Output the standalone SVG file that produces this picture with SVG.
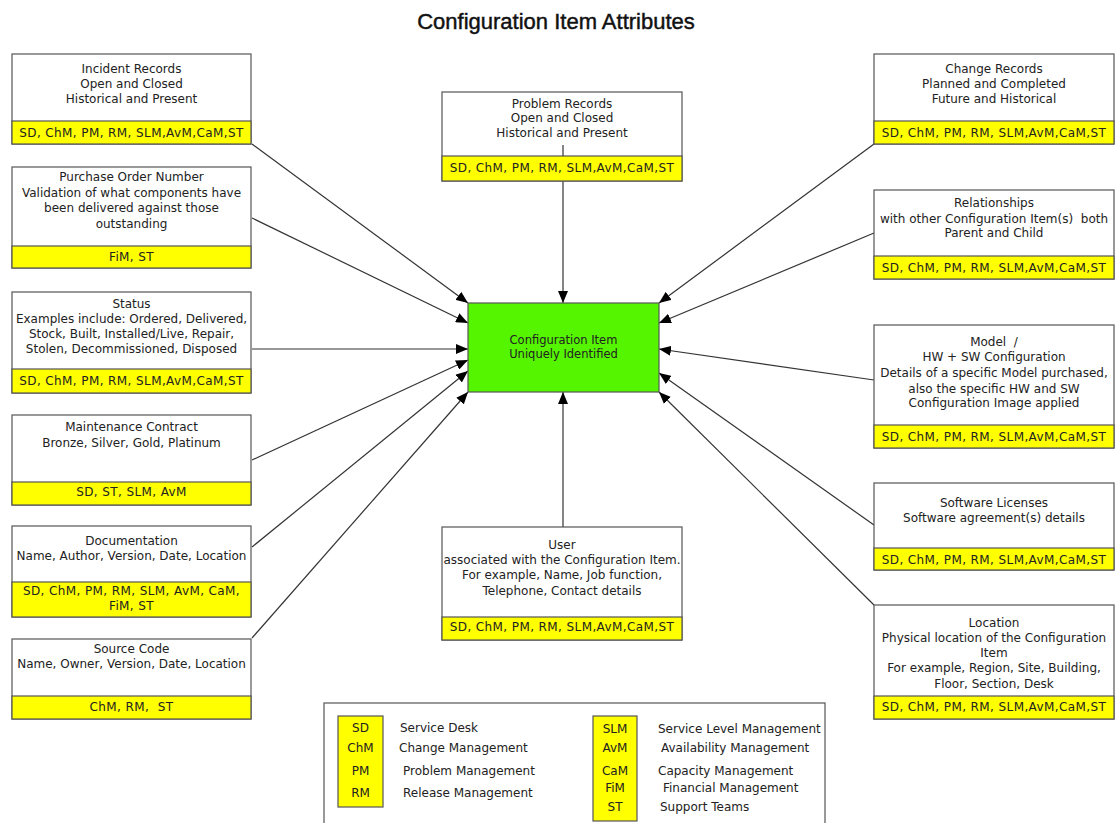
<svg xmlns="http://www.w3.org/2000/svg" width="1117" height="823" viewBox="0 0 1117 823">
<style>
.box{fill:#fff;stroke:#555;stroke-width:1.2}
.yel{fill:#ffff00;stroke:#555;stroke-width:1.2}
.grn{fill:#55f500;stroke:#555;stroke-width:1.2}
.t{font-family:"DejaVu Sans",sans-serif;font-size:12px;fill:#222;text-anchor:middle}
.y{font-family:"DejaVu Sans",sans-serif;font-size:12px;fill:#222;text-anchor:middle;letter-spacing:0.4px;white-space:pre}
.l{font-family:"DejaVu Sans",sans-serif;font-size:12px;fill:#222}
.c{stroke:#333;stroke-width:1.2;fill:none;marker-end:url(#ah)}
.title{font-family:"Liberation Sans",Arial,sans-serif;font-size:22px;fill:#111;stroke:#111;stroke-width:0.45px;text-anchor:middle}
</style>
<defs>
<marker id="ah" viewBox="0 0 12 10" refX="12" refY="5" markerWidth="12" markerHeight="10" orient="auto" markerUnits="userSpaceOnUse"><path d="M0,0 L12,5 L0,10 z" fill="#000"/></marker>
</defs>
<rect width="1117" height="823" fill="#fff"/>
<text class="title" x="556" y="29">Configuration Item Attributes</text>

<g id="connectors">
<line class="c" x1="252" y1="144" x2="468" y2="303"/>
<line class="c" x1="252" y1="218" x2="468" y2="323"/>
<line class="c" x1="252" y1="349" x2="468" y2="349"/>
<line class="c" x1="252" y1="460" x2="468" y2="360"/>
<line class="c" x1="252" y1="547" x2="468" y2="371"/>
<line class="c" x1="252" y1="638" x2="468" y2="392"/>
<line class="c" x1="563" y1="181" x2="563" y2="303"/>
<line class="c" x1="563" y1="527" x2="563" y2="392"/>
<line class="c" x1="874" y1="144" x2="659" y2="303"/>
<line class="c" x1="874" y1="233" x2="659" y2="323"/>
<line class="c" x1="874" y1="380" x2="659" y2="349"/>
<line class="c" x1="874" y1="525" x2="659" y2="373"/>
<line class="c" x1="874" y1="605" x2="659" y2="392"/>
</g>

<g id="incident">
<rect class="box" x="12" y="54" width="239" height="90"/>
<rect class="yel" x="12" y="121" width="239" height="23"/>
<text class="t" x="131.5" y="73">Incident Records</text>
<text class="t" x="131.5" y="88">Open and Closed</text>
<text class="t" x="131.5" y="103">Historical and Present</text>
<text class="y" x="131.5" y="137">SD, ChM, PM, RM, SLM,AvM,CaM,ST</text>
</g>

<g id="purchase">
<rect class="box" x="12" y="167" width="239" height="101"/>
<rect class="yel" x="12" y="246" width="239" height="22"/>
<text class="t" x="131.5" y="181">Purchase Order Number</text>
<text class="t" x="131.5" y="197">Validation of what components have</text>
<text class="t" x="131.5" y="212">been delivered against those</text>
<text class="t" x="131.5" y="228">outstanding</text>
<text class="y" x="131.5" y="261">FiM, ST</text>
</g>

<g id="status">
<rect class="box" x="12" y="292" width="239" height="101"/>
<rect class="yel" x="12" y="369" width="239" height="24"/>
<text class="t" x="131.5" y="308">Status</text>
<text class="t" x="131.5" y="323">Examples include: Ordered, Delivered,</text>
<text class="t" x="131.5" y="338">Stock, Built, Installed/Live, Repair,</text>
<text class="t" x="131.5" y="353">Stolen, Decommissioned, Disposed</text>
<text class="y" x="131.5" y="385">SD, ChM, PM, RM, SLM,AvM,CaM,ST</text>
</g>

<g id="maintenance">
<rect class="box" x="12" y="415" width="239" height="90"/>
<rect class="yel" x="12" y="482" width="239" height="23"/>
<text class="t" x="131.5" y="431">Maintenance Contract</text>
<text class="t" x="131.5" y="447">Bronze, Silver, Gold, Platinum</text>
<text class="y" x="131.5" y="496">SD, ST, SLM, AvM</text>
</g>

<g id="documentation">
<rect class="box" x="12" y="526" width="239" height="91"/>
<rect class="yel" x="12" y="582" width="239" height="35"/>
<text class="t" x="131.5" y="545">Documentation</text>
<text class="t" x="131.5" y="560">Name, Author, Version, Date, Location</text>
<text class="y" x="131.5" y="595">SD, ChM, PM, RM, SLM, AvM, CaM,</text>
<text class="y" x="131.5" y="610">FiM, ST</text>
</g>

<g id="sourcecode">
<rect class="box" x="12" y="639" width="239" height="80"/>
<rect class="yel" x="12" y="696" width="239" height="23"/>
<text class="t" x="131.5" y="653">Source Code</text>
<text class="t" x="131.5" y="668">Name, Owner, Version, Date, Location</text>
<text class="y" x="131.5" y="711">ChM, RM,  ST</text>
</g>

<g id="problem">
<rect class="box" x="442" y="92" width="240" height="89"/>
<rect class="yel" x="442" y="156" width="240" height="25"/>
<line x1="563" y1="145" x2="563" y2="156" stroke="#333" stroke-width="1.2"/>
<text class="t" x="562" y="108">Problem Records</text>
<text class="t" x="562" y="122">Open and Closed</text>
<text class="t" x="562" y="137">Historical and Present</text>
<text class="y" x="562" y="172">SD, ChM, PM, RM, SLM,AvM,CaM,ST</text>
</g>

<g id="ci">
<rect class="grn" x="468" y="303" width="191" height="89"/>
<text class="t" x="563.5" y="344" style="font-size:11.5px">Configuration Item</text>
<text class="t" x="563.5" y="358" style="font-size:11.5px">Uniquely Identified</text>
</g>

<g id="user">
<rect class="box" x="442" y="527" width="240" height="113"/>
<rect class="yel" x="442" y="617" width="240" height="23"/>
<text class="t" x="562" y="549">User</text>
<text class="t" x="562" y="564">associated with the Configuration Item.</text>
<text class="t" x="562" y="579">For example, Name, Job function,</text>
<text class="t" x="562" y="595">Telephone, Contact details</text>
<text class="y" x="562" y="631">SD, ChM, PM, RM, SLM,AvM,CaM,ST</text>
</g>

<g id="change">
<rect class="box" x="874" y="54" width="240" height="90"/>
<rect class="yel" x="874" y="121" width="240" height="23"/>
<text class="t" x="994" y="73">Change Records</text>
<text class="t" x="994" y="88">Planned and Completed</text>
<text class="t" x="994" y="103">Future and Historical</text>
<text class="y" x="994" y="137">SD, ChM, PM, RM, SLM,AvM,CaM,ST</text>
</g>

<g id="relationships">
<rect class="box" x="874" y="190" width="240" height="89"/>
<rect class="yel" x="874" y="256" width="240" height="23"/>
<text class="t" x="994" y="207">Relationships</text>
<text class="t" x="994" y="223" style="white-space:pre">with other Configuration Item(s)  both</text>
<text class="t" x="994" y="237">Parent and Child</text>
<text class="y" x="994" y="272">SD, ChM, PM, RM, SLM,AvM,CaM,ST</text>
</g>

<g id="model">
<rect class="box" x="874" y="325" width="240" height="123"/>
<rect class="yel" x="874" y="425" width="240" height="23"/>
<text class="t" x="994" y="346" style="white-space:pre">Model  /</text>
<text class="t" x="994" y="361">HW + SW Configuration</text>
<text class="t" x="994" y="377">Details of a specific Model purchased,</text>
<text class="t" x="994" y="393">also the specific HW and SW</text>
<text class="t" x="994" y="407">Configuration Image applied</text>
<text class="y" x="994" y="441">SD, ChM, PM, RM, SLM,AvM,CaM,ST</text>
</g>

<g id="software">
<rect class="box" x="874" y="483" width="240" height="87"/>
<rect class="yel" x="874" y="548" width="240" height="22"/>
<text class="t" x="994" y="507">Software Licenses</text>
<text class="t" x="994" y="522">Software agreement(s) details</text>
<text class="y" x="994" y="564">SD, ChM, PM, RM, SLM,AvM,CaM,ST</text>
</g>

<g id="location">
<rect class="box" x="874" y="605" width="240" height="114"/>
<rect class="yel" x="874" y="696" width="240" height="23"/>
<text class="t" x="994" y="627">Location</text>
<text class="t" x="994" y="642">Physical location of the Configuration</text>
<text class="t" x="994" y="657">Item</text>
<text class="t" x="994" y="672">For example, Region, Site, Building,</text>
<text class="t" x="994" y="688">Floor, Section, Desk</text>
<text class="y" x="994" y="711">SD, ChM, PM, RM, SLM,AvM,CaM,ST</text>
</g>

<g id="legend">
<rect class="box" x="324" y="703" width="501" height="130"/>
<rect class="yel" x="338" y="716" width="45" height="91"/>
<rect class="yel" x="593" y="716" width="44" height="105"/>
<text class="t" x="360.5" y="732">SD</text>
<text class="t" x="360.5" y="752">ChM</text>
<text class="t" x="360.5" y="775">PM</text>
<text class="t" x="360.5" y="797">RM</text>
<text class="l" x="400" y="732">Service Desk</text>
<text class="l" x="399" y="752">Change Management</text>
<text class="l" x="403" y="775">Problem Management</text>
<text class="l" x="403" y="797">Release Management</text>
<text class="t" x="615" y="733">SLM</text>
<text class="t" x="615" y="752">AvM</text>
<text class="t" x="615" y="775">CaM</text>
<text class="t" x="615" y="792">FiM</text>
<text class="t" x="615" y="811">ST</text>
<text class="l" x="658" y="733">Service Level Management</text>
<text class="l" x="661" y="752">Availability Management</text>
<text class="l" x="658" y="775">Capacity Management</text>
<text class="l" x="663" y="792">Financial Management</text>
<text class="l" x="660" y="811">Support Teams</text>
</g>
</svg>
